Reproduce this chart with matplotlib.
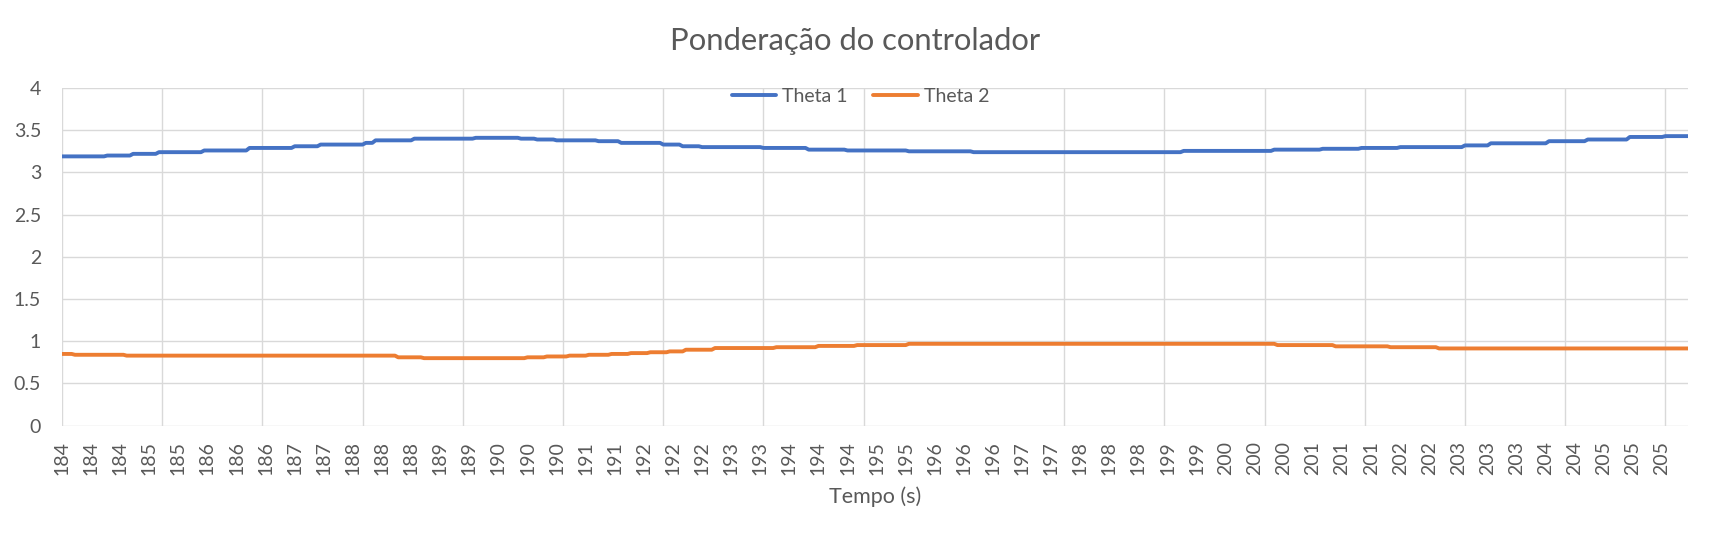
import numpy as np
import matplotlib
matplotlib.use("Agg")
from matplotlib import pyplot as plt

plt.rcParams['font.family'] = ['Lato', 'DejaVu Sans']

# x axis: 504 samples, a label every 9 samples, gridline every 31
n_points = 504
label_step = 9
grid_step = 31
tick_labels = ["184", "184", "184", "185", "185", "186", "186", "186", "187", "187",
               "188", "188", "188", "189", "189", "190", "190", "190", "191", "191",
               "192", "192", "192", "193", "193", "194", "194", "194", "195", "195",
               "196", "196", "196", "197", "197", "198", "198", "198", "199", "199",
               "200", "200", "200", "201", "201", "201", "202", "202", "203", "203",
               "203", "204", "204", "205", "205", "205"]

# step levels: (sample index where the level starts, value)
theta1_start = [0, 14, 22, 30, 44, 58, 72, 80, 94, 97, 109, 128, 142, 147, 153, 166,
                173, 186, 192, 198, 217, 231, 243, 262, 282, 347, 375, 390, 402, 414,
                434, 442, 460, 472, 485, 496]
theta1_value = [3.19, 3.20, 3.22, 3.24, 3.26, 3.29, 3.31, 3.33, 3.35, 3.38, 3.40, 3.41,
                3.40, 3.39, 3.38, 3.37, 3.35, 3.33, 3.31, 3.30, 3.29, 3.27, 3.26, 3.25,
                3.24, 3.255, 3.27, 3.28, 3.29, 3.30, 3.32, 3.345, 3.37, 3.39, 3.42, 3.43]

theta2_start = [0, 4, 20, 104, 112, 144, 150, 157, 163, 170, 176, 182, 188, 193, 202,
                221, 234, 246, 262, 376, 394, 411, 426]
theta2_value = [0.85, 0.84, 0.83, 0.81, 0.80, 0.81, 0.82, 0.83, 0.84, 0.85, 0.86, 0.87,
                0.88, 0.90, 0.92, 0.93, 0.945, 0.955, 0.97, 0.955, 0.94, 0.93, 0.915]


def expand(starts, values, n):
    idx = np.searchsorted(starts, np.arange(n), side='right') - 1
    return np.array(values)[idx]


theta1 = expand(theta1_start, theta1_value, n_points)
theta2 = expand(theta2_start, theta2_value, n_points)
x = np.arange(n_points)

grey = "#595959"
gridc = "#D9D9D9"

fig = plt.figure(figsize=(17.11, 5.36), dpi=100)
ax = fig.add_axes([62 / 1711, 1 - 425.7 / 536, 1626 / 1711, 337.7 / 536])

ax.plot(x, theta1, color="#4472C4", lw=2.8, solid_capstyle='round',
        solid_joinstyle='round', label="Theta 1", zorder=3)
ax.plot(x, theta2, color="#ED7D31", lw=2.8, solid_capstyle='round',
        solid_joinstyle='round', label="Theta 2", zorder=3)

ax.set_xlim(0, n_points - 1)
ax.set_ylim(0, 4)
ax.set_yticks(np.arange(0, 4.01, 0.5))
ax.set_yticklabels(["0", "0.5", "1", "1.5", "2", "2.5", "3", "3.5", "4"])
ax.set_xticks(np.arange(0, n_points, label_step)[:len(tick_labels)])
ax.set_xticklabels(tick_labels, rotation=90)
ax.set_xticks(np.arange(0, n_points, grid_step), minor=True)

ax.tick_params(axis='both', which='both', length=0, colors=grey, labelsize=14)
ax.tick_params(axis='y', pad=15)
ax.tick_params(axis='x', pad=11)

for s in ax.spines.values():
    s.set_visible(False)
ax.grid(False)
ax.grid(True, axis='y', which='major', color=gridc, lw=1.0, zorder=0)
ax.grid(True, axis='x', which='minor', color=gridc, lw=1.0, zorder=0)
ax.axvline(0, color=gridc, lw=1.0, zorder=0)
ax.set_axisbelow(True)

ax.set_xlabel("Tempo (s)", color=grey, fontsize=15.5, labelpad=8)
fig.text(0.5, 1 - 41 / 536, "Ponderação do controlador", ha='center', va='center',
         color=grey, fontsize=22.3)

leg = ax.legend(loc='center', bbox_to_anchor=(0.491, 0.976), ncol=2, frameon=False,
                fontsize=14, handlelength=2.3, handletextpad=0.3, columnspacing=1.3,
                borderpad=0)
for t in leg.get_texts():
    t.set_color(grey)

fig.savefig("out.png", dpi=100)
